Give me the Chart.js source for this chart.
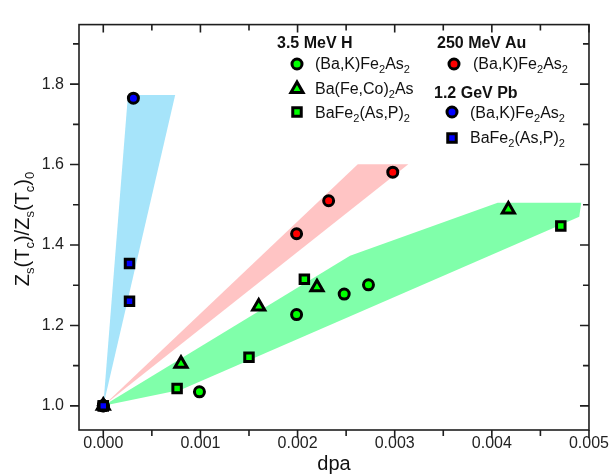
<!DOCTYPE html>
<html>
<head>
<meta charset="utf-8">
<script src="https://cdn.jsdelivr.net/npm/chart.js@4.4.1/dist/chart.umd.min.js"></script>
<style>
html, body { margin: 0; padding: 0; background: #fff; }
#wrap { position: relative; width: 613px; height: 475px; font-family: "Liberation Sans", Arial, sans-serif; color: #111; }
#c { position: absolute; left: 0; top: 0; }
.t { position: absolute; white-space: nowrap; font-size: 16px; line-height: 16px; }
.b { font-weight: bold; }
sub { font-size: 11px; vertical-align: -4px; line-height: 0; }
.ax { position: absolute; white-space: nowrap; font-size: 20px; line-height: 22px; text-align: center; }
.ax sub { font-size: 13px; vertical-align: -5px; }
</style>
</head>
<body>
<div id="wrap">
  <canvas id="c" width="613" height="475"></canvas>

  <div class="t b" style="left:277px;top:35px">3.5 MeV H</div>
  <div class="t" style="left:315px;top:56px">(Ba,K)Fe<sub>2</sub>As<sub>2</sub></div>
  <div class="t" style="left:315px;top:81px">Ba(Fe,Co)<sub>2</sub>As</div>
  <div class="t" style="left:315px;top:105px">BaFe<sub>2</sub>(As,P)<sub>2</sub></div>

  <div class="t b" style="left:437px;top:35px">250 MeV Au</div>
  <div class="t" style="left:473px;top:56px">(Ba,K)Fe<sub>2</sub>As<sub>2</sub></div>

  <div class="t b" style="left:434px;top:85px">1.2 GeV Pb</div>
  <div class="t" style="left:470px;top:105px">(Ba,K)Fe<sub>2</sub>As<sub>2</sub></div>
  <div class="t" style="left:470px;top:130px">BaFe<sub>2</sub>(As,P)<sub>2</sub></div>

  <div class="ax" style="left:284px;top:452px;width:100px">dpa</div>
  <div class="ax" style="left:-78px;top:218px;width:200px;transform:rotate(-90deg)">Z<sub>s</sub>(T<sub>c</sub>)/Z<sub>s</sub>(T<sub>c</sub>)<sub>0</sub></div>
</div>

<script>
"use strict";

const xTicks = [0, 0.001, 0.002, 0.003, 0.004, 0.005];
const yTicks = [1.0, 1.2, 1.4, 1.6, 1.8];

// 3.5 MeV H
const hBaK_x = [0, 0.00099, 0.00199, 0.00248, 0.00273];
const hBaK_y = [1.0, 1.035, 1.227, 1.278, 1.301];
const hCo_x = [0, 0.0008, 0.0016, 0.0022, 0.00417];
const hCo_y = [1.0, 1.105, 1.247, 1.295, 1.488];
const hP_x = [0, 0.00076, 0.0015, 0.00207, 0.00471];
const hP_y = [1.0, 1.043, 1.121, 1.315, 1.447];

// 250 MeV Au
const auBaK_x = [0, 0.00199, 0.00232, 0.00298];
const auBaK_y = [1.0, 1.428, 1.510, 1.581];

// 1.2 GeV Pb
const pbBaK_x = [0, 0.00031];
const pbBaK_y = [1.0, 1.765];
const pbP_x = [0, 0.00027, 0.00027];
const pbP_y = [1.0, 1.260, 1.354];

// shaded bands (polygon corners)
const blueBand_x = [0, 0.000254, 0.00074];
const blueBand_y = [1.0, 1.773, 1.773];
const redBand_x = [0, 0.00262, 0.00314];
const redBand_y = [1.0, 1.601, 1.601];
const greenBand_x = [0, 0.00254, 0.00406, 0.00492, 0.0049, 0.0008];
const greenBand_y = [1.0, 1.373, 1.505, 1.505, 1.47, 1.04];

function pts(xs, ys) {
    return xs.map((x, i) => ({x: x, y: ys[i]}));
}

function band(xs, ys, color) {
    return {
        type: 'line',
        data: pts(xs, ys),
        fill: 'shape',
        backgroundColor: color,
        borderWidth: 0,
        borderColor: 'rgba(0,0,0,0)',
        pointRadius: 0,
        tension: 0,
        order: 10
    };
}

function marks(xs, ys, style, color, r, ord) {
    return {
        type: 'scatter',
        data: pts(xs, ys),
        pointStyle: style,
        pointRadius: r,
        pointBackgroundColor: color,
        pointBorderColor: '#000',
        pointBorderWidth: 3,
        order: ord
    };
}

const green = '#00ff00', red = '#ff0000', blue = '#0000ff';

const sets = [
    band(blueBand_x, blueBand_y, 'rgb(166,228,250)'),
    band(redBand_x, redBand_y, 'rgb(255,196,196)'),
    band(greenBand_x, greenBand_y, 'rgb(128,255,170)'),
    marks(hBaK_x, hBaK_y, 'circle', green, 5, 6),
    marks(hCo_x, hCo_y, 'triangle', green, 7, 5),
    marks(hP_x, hP_y, 'rect', green, 6, 4),
    marks(auBaK_x, auBaK_y, 'circle', red, 5, 3),
    marks(pbBaK_x, pbBaK_y, 'circle', blue, 5, 2),
    marks(pbP_x, pbP_y, 'rect', blue, 6, 1)
];

// legend markers: dataset index and position
const legendMarks = [
    [3, 297, 64], [4, 297, 89], [5, 297, 112],
    [6, 454, 64], [7, 452, 112], [8, 452, 138]
];

function drawMark(ctx, ds, x, y) {
    ctx.fillStyle = ds.pointBackgroundColor;
    ctx.strokeStyle = ds.pointBorderColor;
    ctx.lineWidth = ds.pointBorderWidth;
    Chart.helpers.drawPoint(ctx, {pointStyle: ds.pointStyle, radius: ds.pointRadius, rotation: 0, borderWidth: ds.pointBorderWidth}, x, y);
}

const framePlugin = {
    id: 'frame',
    afterDraw(chart) {
        const ctx = chart.ctx, a = chart.chartArea;
        const x = chart.scales.x, y = chart.scales.y;
        ctx.save();
        ctx.strokeStyle = '#1e1e1e';
        ctx.lineWidth = 1.6;
        ctx.strokeRect(a.left, a.top, a.right - a.left, a.bottom - a.top);
        ctx.beginPath();
        xTicks.forEach((v, i) => {
            const vals = [v];
            if (i > 0) vals.push(v - 0.0005);
            vals.forEach((t, j) => {
                const px = x.getPixelForValue(t);
                const len = j === 0 ? 8 : 6;
                ctx.moveTo(px, a.bottom); ctx.lineTo(px, a.bottom + len);
                ctx.moveTo(px, a.top); ctx.lineTo(px, a.top + len);
            });
        });
        yTicks.forEach((v, i) => {
            const vals = [v, v + 0.1];
            vals.forEach((t, j) => {
                const py = y.getPixelForValue(t);
                const len = j === 0 ? 9 : 6;
                ctx.moveTo(a.left, py); ctx.lineTo(a.left - len, py);
                ctx.moveTo(a.right, py); ctx.lineTo(a.right - len, py);
            });
        });
        ctx.stroke();

        legendMarks.forEach(m => drawMark(ctx, chart.data.datasets[m[0]], m[1], m[2]));
        ctx.restore();
    }
};

new Chart(document.getElementById('c'), {
    type: 'scatter',
    data: {datasets: sets},
    options: {
        responsive: false,
        animation: false,
        layout: {padding: {top: 15, right: 23, left: 0, bottom: 0}},
        plugins: {
            legend: {display: false},
            tooltip: {enabled: false}
        },
        scales: {
            x: {
                type: 'linear',
                min: -0.00025,
                max: 0.005,
                grid: {display: false, drawTicks: false},
                border: {display: false},
                afterBuildTicks: s => { s.ticks = xTicks.map(v => ({value: v})); },
                afterFit: s => { s.height = 45; },
                ticks: {
                    padding: 4,
                    color: '#222',
                    font: {family: "'Liberation Sans', Arial", size: 16},
                    callback: v => v.toFixed(3)
                }
            },
            y: {
                type: 'linear',
                min: 0.94,
                max: 1.948,
                grid: {display: false, drawTicks: false},
                border: {display: false},
                afterBuildTicks: s => { s.ticks = yTicks.map(v => ({value: v})); },
                afterFit: s => { s.width = 79; },
                ticks: {
                    padding: 15,
                    color: '#222',
                    font: {family: "'Liberation Sans', Arial", size: 16},
                    callback: v => v.toFixed(1)
                }
            }
        }
    },
    plugins: [framePlugin]
});
</script>
</body>
</html>
